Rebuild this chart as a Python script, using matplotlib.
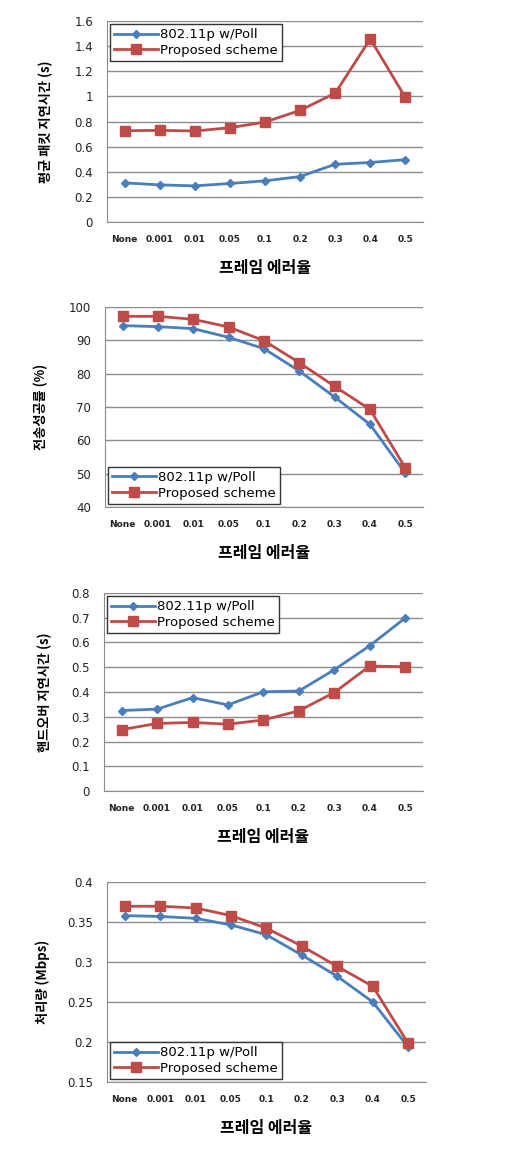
import matplotlib.pyplot as plt

plt.rcParams['font.family'] = ['DejaVu Sans', 'Noto Sans CJK KR']

error_rates = ['None', '0.001', '0.01', '0.05', '0.1', '0.2', '0.3', '0.4', '0.5']
series_names = ['802.11p w/Poll', 'Proposed scheme']
x_label = '프레임 에러율'

delay_poll = [0.312, 0.296, 0.288, 0.307, 0.328, 0.362, 0.46, 0.474, 0.497]
delay_prop = [0.727, 0.73, 0.725, 0.751, 0.796, 0.889, 1.026, 1.458, 0.992]

success_poll = [94.4, 94.1, 93.5, 90.9, 87.5, 80.8, 73.0, 64.8, 50.2]
success_prop = [97.2, 97.2, 96.3, 94.0, 89.9, 83.3, 76.2, 69.3, 51.8]

handover_poll = [0.325, 0.331, 0.377, 0.348, 0.401, 0.404, 0.49, 0.587, 0.699]
handover_prop = [0.248, 0.273, 0.277, 0.27, 0.287, 0.324, 0.398, 0.505, 0.502]

thru_poll = [0.358, 0.357, 0.3546, 0.3464, 0.334, 0.3086, 0.282, 0.250, 0.1936]
thru_prop = [0.3697, 0.3697, 0.3676, 0.358, 0.3423, 0.3198, 0.2945, 0.2696, 0.1982]

panels = [
    # (poll, proposed, ylabel, yticks, ticklabels, legend loc, axes rect, ylabel pad)
    (delay_poll, delay_prop, '평균 패킷 지연시간 (s)',
     [0, 0.2, 0.4, 0.6, 0.8, 1.0, 1.2, 1.4, 1.6],
     ['0', '0.2', '0.4', '0.6', '0.8', '1', '1.2', '1.4', '1.6'],
     'upper left', [0.209, 0.8094, 0.617, 0.1725], 15),
    (success_poll, success_prop, '전송성공률 (%)',
     [40, 50, 60, 70, 80, 90, 100],
     ['40', '50', '60', '70', '80', '90', '100'],
     'lower left', [0.205, 0.5648, 0.621, 0.1717], 15),
    (handover_poll, handover_prop, '핸드오버 지연시간 (s)',
     [0, 0.1, 0.2, 0.3, 0.4, 0.5, 0.6, 0.7, 0.8],
     ['0', '0.1', '0.2', '0.3', '0.4', '0.5', '0.6', '0.7', '0.8'],
     'upper left', [0.203, 0.321, 0.623, 0.170], 14),
    (thru_poll, thru_prop, '처리량 (Mbps)',
     [0.15, 0.2, 0.25, 0.3, 0.35, 0.4],
     ['0.15', '0.2', '0.25', '0.3', '0.35', '0.4'],
     'lower left', [0.209, 0.0712, 0.623, 0.1717], 12),
]

blue = '#4A7EBB'
red = '#BE4B48'

fig = plt.figure(figsize=(5.12, 11.65), dpi=100)

for poll, prop, ylabel, yticks, ylabels, loc, rect, ypad in panels:
    ax = fig.add_axes(rect)
    x = list(range(len(error_rates)))
    ax.plot(x, poll, color=blue, lw=2, marker='D', ms=4.5, label=series_names[0])
    ax.plot(x, prop, color=red, lw=2, marker='s', ms=7, label=series_names[1])

    ax.set_xlim(-0.5, len(error_rates) - 0.5)
    ax.set_ylim(yticks[0], yticks[-1])
    ax.set_yticks(yticks)
    ax.set_yticklabels(ylabels, fontsize=8.5, color='#222222')
    ax.set_xticks(x)
    ax.set_xticklabels(error_rates, fontsize=6.5, fontweight='bold', color='#222222')
    ax.tick_params(axis='x', length=0, pad=9)
    ax.tick_params(axis='y', length=0, pad=10)

    ax.grid(axis='y', color='#8c8c8c', lw=1)
    ax.set_axisbelow(True)
    for side in ['top', 'right']:
        ax.spines[side].set_visible(False)
    ax.spines['left'].set_color('#8c8c8c')
    ax.spines['bottom'].set_color('#8c8c8c')

    ax.set_xlabel(x_label, fontsize=11.5, fontweight='bold',
                  family=['Noto Sans CJK KR', 'DejaVu Sans'], labelpad=12)
    ax.set_ylabel(ylabel, fontsize=9.5, fontweight='bold',
                  family=['Noto Sans CJK KR', 'DejaVu Sans'], labelpad=ypad)

    leg = ax.legend(loc=loc, fontsize=9.5, handlelength=3.3, fancybox=False,
                    framealpha=1, edgecolor='#333333', borderaxespad=0.25,
                    labelspacing=0.2, handletextpad=0.2, borderpad=0.3)
    leg.get_frame().set_linewidth(1)

fig.savefig('out.png', dpi=100)
